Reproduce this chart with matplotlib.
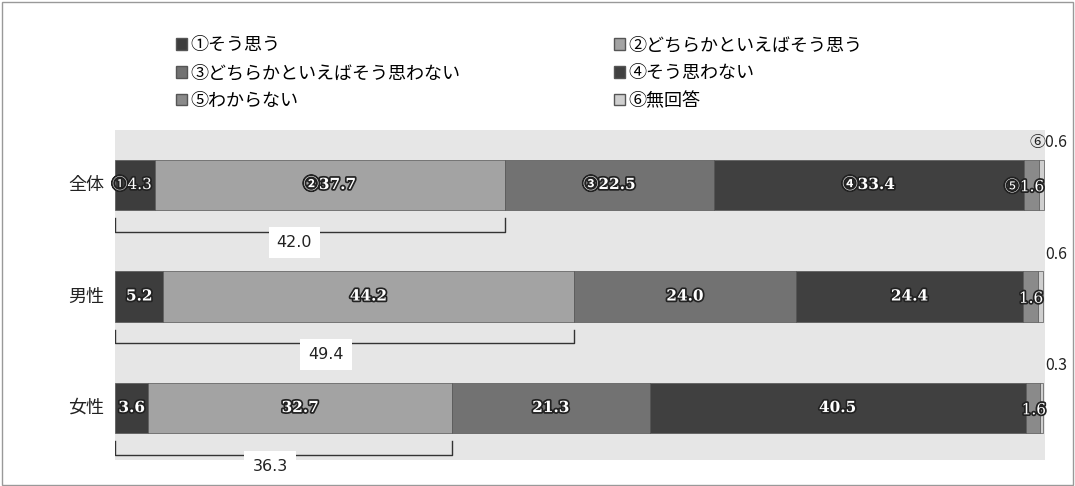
import matplotlib.pyplot as plt
import matplotlib.patheffects as pe
from matplotlib.patches import Patch, Rectangle

plt.rcParams['font.family'] = ['Noto Sans CJK JP', 'DejaVu Sans']

groups = ["全体", "男性", "女性"]
series = ["①そう思う", "②どちらかといえばそう思う", "③どちらかといえばそう思わない",
          "④そう思わない", "⑤わからない", "⑥無回答"]
values = [
    [4.3, 37.7, 22.5, 33.4, 1.6, 0.6],
    [5.2, 44.2, 24.0, 24.4, 1.6, 0.6],
    [3.6, 32.7, 21.3, 40.5, 1.6, 0.3],
]
labels = [
    ["①4.3", "②37.7", "③22.5", "④33.4", "⑤1.6", "⑥0.6"],
    ["5.2", "44.2", "24.0", "24.4", "1.6", "0.6"],
    ["3.6", "32.7", "21.3", "40.5", "1.6", "0.3"],
]
sums = ["42.0", "49.4", "36.3"]
colors = ["#3d3d3d", "#a3a3a3", "#727272", "#404040", "#8a8a8a", "#cfcfcf"]

W, H = 1075, 486
fig = plt.figure(figsize=(W / 100, H / 100), dpi=100)
fig.patches.append(Rectangle((0.002, 0.002), 0.996, 0.994, transform=fig.transFigure,
                             fill=False, ec="#999999", lw=1))
ax = fig.add_axes([115 / W, 1 - 460 / H, 930 / W, 330 / H])
ax.set_facecolor("#e6e6e6")
ax.set_xlim(0, 100.2)
ax.set_ylim(2.466, -0.493)
for s in ax.spines.values():
    s.set_visible(False)
ax.set_xticks([])
ax.set_yticks([])

fx = [pe.withStroke(linewidth=2.5, foreground="#222222")]
fam = ["DejaVu Serif", "Noto Sans CJK JP"]
for i, g in enumerate(groups):
    left = 0
    for j, v in enumerate(values[i]):
        ax.barh(i, v, left=left, height=0.45, color=colors[j], edgecolor="#555555", lw=0.5)
        if j < 4:
            if i == 0 and j == 0:
                ax.text(left - 0.3, i, labels[i][j], ha="left", va="center", fontsize=11,
                        color="white", path_effects=fx, family=fam)
            else:
                ax.text(left + v / 2, i, labels[i][j], ha="center", va="center", fontsize=11,
                        color="white", path_effects=fx, family=fam, fontweight="bold")
        elif j == 4:
            ax.text(left + v + 0.6, i + 0.02, labels[i][j], ha="right", va="center", fontsize=11,
                    color="white", path_effects=fx, family=fam)
        else:
            ax.text(102.6, i - 0.38, labels[i][j], ha="right", va="center", fontsize=11.5,
                    color="#222222", clip_on=False)
        left += v
    ax.text(-1.2, i, g, ha="right", va="center", fontsize=13, color="#222222", clip_on=False)
    # bracket
    end = values[i][0] + values[i][1]
    yb = i + 0.42
    ax.plot([0, 0, end, end], [yb - 0.12, yb, yb, yb - 0.12], color="#333333", lw=1)
    ax.text(end * 0.46, yb + 0.1, sums[i], ha="center", va="center", fontsize=11.5,
            color="#222222", family="DejaVu Sans",
            bbox=dict(boxstyle="square,pad=0.5", fc="white", ec="none"))

order = [0, 2, 4, 1, 3, 5]
handles = [Patch(facecolor=colors[k], edgecolor="#555555", label=series[k]) for k in order]
fig.legend(handles=handles, loc="upper left", bbox_to_anchor=(160 / W, 1 - 20 / H), ncol=2,
           frameon=False, fontsize=13, columnspacing=8.5, handlelength=0.6, handleheight=0.6,
           handletextpad=0.2, labelspacing=0.55)

fig.savefig("out.png", dpi=100)
